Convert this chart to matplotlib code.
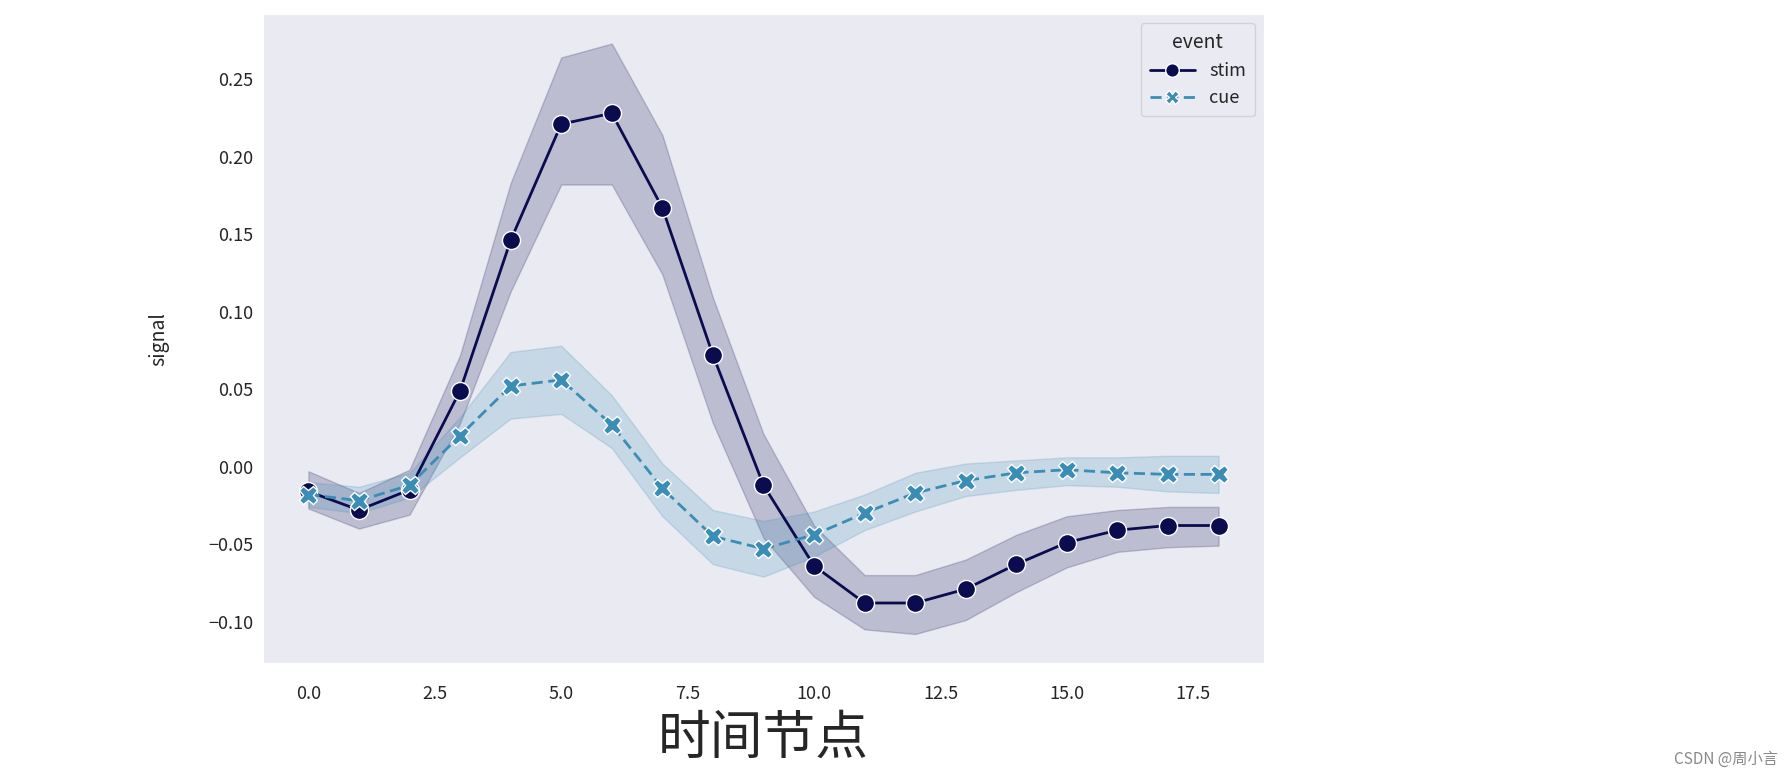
import numpy as np
import matplotlib
matplotlib.use("Agg")
import matplotlib.pyplot as plt
import seaborn as sns

# fmri-style mean signal per timepoint
timepoints = list(range(19))

stim_mean = [-0.016, -0.028, -0.015, 0.049, 0.146, 0.221, 0.228, 0.167, 0.072, -0.012,
             -0.064, -0.088, -0.088, -0.079, -0.063, -0.049, -0.041, -0.038, -0.038]
stim_hi = [-0.003, -0.017, -0.002, 0.072, 0.183, 0.264, 0.273, 0.214, 0.109, 0.021,
           -0.038, -0.070, -0.070, -0.060, -0.044, -0.032, -0.028, -0.026, -0.026]
stim_lo = [-0.027, -0.040, -0.031, 0.028, 0.113, 0.182, 0.182, 0.124, 0.028, -0.046,
           -0.084, -0.105, -0.108, -0.099, -0.081, -0.065, -0.055, -0.052, -0.051]

cue_mean = [-0.018, -0.022, -0.012, 0.020, 0.052, 0.056, 0.027, -0.014, -0.045, -0.053,
            -0.044, -0.030, -0.017, -0.009, -0.004, -0.002, -0.004, -0.005, -0.005]
cue_hi = [-0.010, -0.013, -0.004, 0.032, 0.074, 0.078, 0.046, 0.002, -0.028, -0.035,
          -0.029, -0.018, -0.004, 0.002, 0.004, 0.006, 0.006, 0.007, 0.007]
cue_lo = [-0.026, -0.030, -0.020, 0.006, 0.031, 0.034, 0.012, -0.032, -0.063, -0.071,
          -0.058, -0.041, -0.029, -0.019, -0.015, -0.012, -0.013, -0.016, -0.017]

events = ["stim", "cue"]
colors = ["#0b0b50", "#3a8db5"]

sns.set_style("dark")
plt.rcParams['font.family'] = ['Noto Sans CJK SC', 'DejaVu Sans']

fig = plt.figure(figsize=(17.92, 7.82), dpi=100)
ax = fig.add_axes([0.1467, 0.152, 0.5587, 0.830])

series = [(stim_mean, stim_lo, stim_hi), (cue_mean, cue_lo, cue_hi)]
styles = [dict(marker="o", linestyle="-"), dict(marker="X", linestyle=(0, (4, 2)))]
for name, col, (m, lo, hi), st in zip(events, colors, series, styles):
    ax.fill_between(timepoints, lo, hi, color=col, alpha=0.2, linewidth=1)
    ax.plot(timepoints, m, color=col, label=name, linewidth=2,
            markersize=13, markeredgecolor="white", markeredgewidth=1, **st)

ax.set_xlim(-0.9, 18.9)
ax.set_ylim(-0.1268, 0.292)
ax.set_xticks(np.arange(0, 18, 2.5))
ax.set_yticks(np.arange(-0.10, 0.26, 0.05))
ax.tick_params(labelsize=13)
ax.tick_params(axis="x", pad=12)
ax.set_ylabel("signal", fontsize=14, labelpad=28)
ax.set_xlabel("时间节点", fontsize=38, labelpad=6)

ax.legend(title="event", loc="upper right", fontsize=13, title_fontsize=14,
          handlelength=2.5, borderpad=0.5, markerscale=0.75)

fig.text(0.992, 0.018, "CSDN @周小言", ha="right", va="bottom",
         fontsize=11, color="#888888")

fig.savefig("out.png", dpi=100)
